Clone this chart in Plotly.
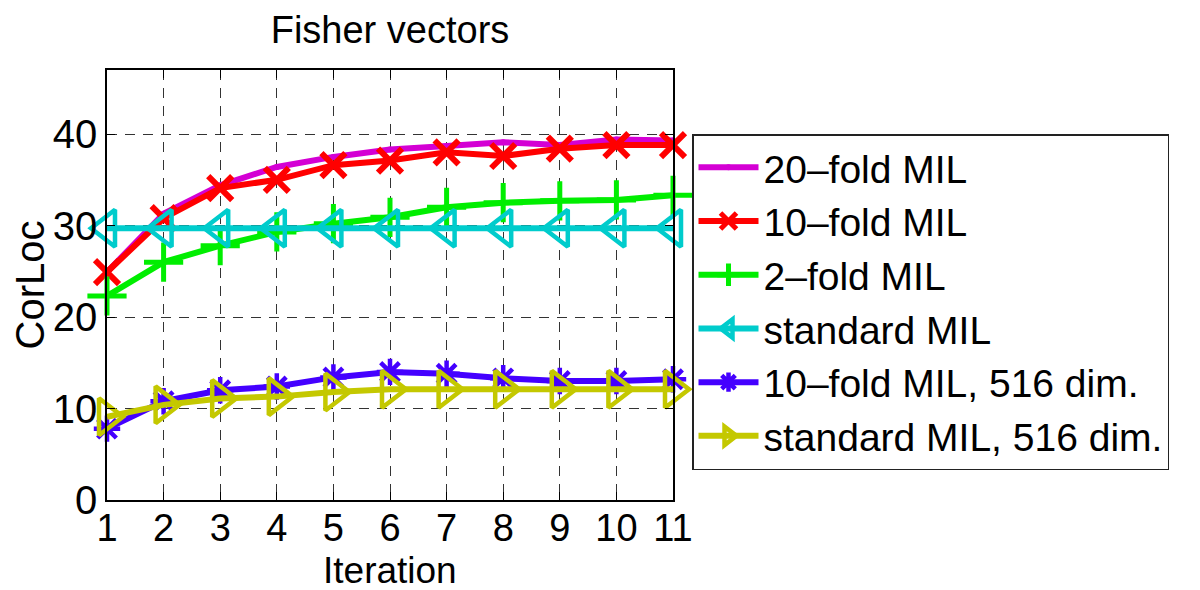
import plotly.graph_objects as go

iterations = [1, 2, 3, 4, 5, 6, 7, 8, 9, 10, 11]

fold20 = [24.9, 31.3, 34.4, 36.4, 37.5, 38.3, 38.7, 39.1, 38.8, 39.4, 39.3]
fold10 = [24.9, 30.8, 34.1, 35.0, 36.6, 37.1, 38.0, 37.6, 38.4, 38.8, 38.8]
fold2 = [22.3, 26.0, 27.8, 29.3, 30.2, 30.9, 32.0, 32.5, 32.7, 32.8, 33.3]
standard = [29.7, 29.7, 29.7, 29.7, 29.7, 29.7, 29.7, 29.7, 29.7, 29.7, 29.7]
fold10_516 = [7.8, 10.8, 12.0, 12.4, 13.4, 14.0, 13.8, 13.3, 13.0, 13.0, 13.2]
standard_516 = [9.1, 10.4, 11.1, 11.3, 11.8, 12.1, 12.1, 12.1, 12.1, 12.1, 12.1]

series_names = ["20\u2013fold MIL", "10\u2013fold MIL", "2\u2013fold MIL", "standard MIL",
                "10\u2013fold MIL, 516 dim.", "standard MIL, 516 dim."]
series_values = [fold20, fold10, fold2, standard, fold10_516, standard_516]

styles = [
    dict(color="#D400D4", symbol="circle", size=6, mlw=0),
    dict(color="#FF0000", symbol="x-thin-open", size=24, mlw=6),
    dict(color="#00EE00", symbol="cross-thin-open", size=28, mlw=5),
    dict(color="#00CCCC", symbol="triangle-left-open", size=32, mlw=4.5),
    dict(color="#4400FF", symbol="asterisk-open", size=22, mlw=4.5),
    dict(color="#C4C800", symbol="triangle-right-open", size=32, mlw=4.5),
]

FONT = "Liberation Sans, Arial, Helvetica, sans-serif"
FS = 40

# page body has an 8px margin; figure is sized/offset to compensate
W, H = 1192, 582
L, T = 99, 62
PW, PH = 566, 430

fig = go.Figure()
for name, vals, st in zip(series_names, series_values, styles):
    fig.add_trace(go.Scatter(
        x=iterations, y=vals, name=name, mode="lines+markers",
        line=dict(color=st["color"], width=6),
        marker=dict(symbol=st["symbol"], size=st["size"], color=st["color"],
                    line=dict(color=st["color"], width=st["mlw"])),
        cliponaxis=False,
    ))

axis_common = dict(
    showline=True, linecolor="#000", linewidth=1.5, mirror="ticks",
    ticks="inside", ticklen=8, tickcolor="#000", tickwidth=1,
    showgrid=True, gridcolor="#333", griddash="10px,8px", gridwidth=1,
    zeroline=False, automargin=False,
)

fig.update_layout(
    width=W, height=H,
    margin=dict(l=L, r=W - L - PW, t=T, b=H - T - PH),
    paper_bgcolor="white", plot_bgcolor="white",
    font=dict(family=FONT, size=FS, color="#000"),
    title=dict(text="Fisher vectors", x=(390 - 8) / W,
               xanchor="center", y=1 - (30 - 8) / H, yanchor="middle",
               font=dict(family=FONT, size=38, color="#000")),
    xaxis=dict(range=[1, 11], tickvals=iterations, ticktext=[str(i) for i in iterations],
               tickfont=dict(family=FONT, size=38, color="#000"),
               ticklabelstandoff=-6,
               **axis_common),
    yaxis=dict(range=[0, 47], tickvals=[0, 10, 20, 30, 40],
               tickfont=dict(family=FONT, size=FS, color="#000"),
               title=dict(text="CorLoc", standoff=4,
                          font=dict(family=FONT, size=FS, color="#000")),
               **axis_common),
    legend=dict(x=(692 - 107) / PW, y=(500 - 134) / PH, xanchor="left", yanchor="top",
                bgcolor="white", bordercolor="#222", borderwidth=1.5,
                font=dict(family=FONT, size=39, color="#000"),
                itemwidth=60, tracegroupgap=0),
    showlegend=True,
    annotations=[dict(text="Iteration", xref="paper", yref="paper",
                      x=0.5, y=-(570 - 500) / PH, xanchor="center", yanchor="middle",
                      showarrow=False, font=dict(family=FONT, size=37, color="#000"))],
)

fig.write_html("out.html")
